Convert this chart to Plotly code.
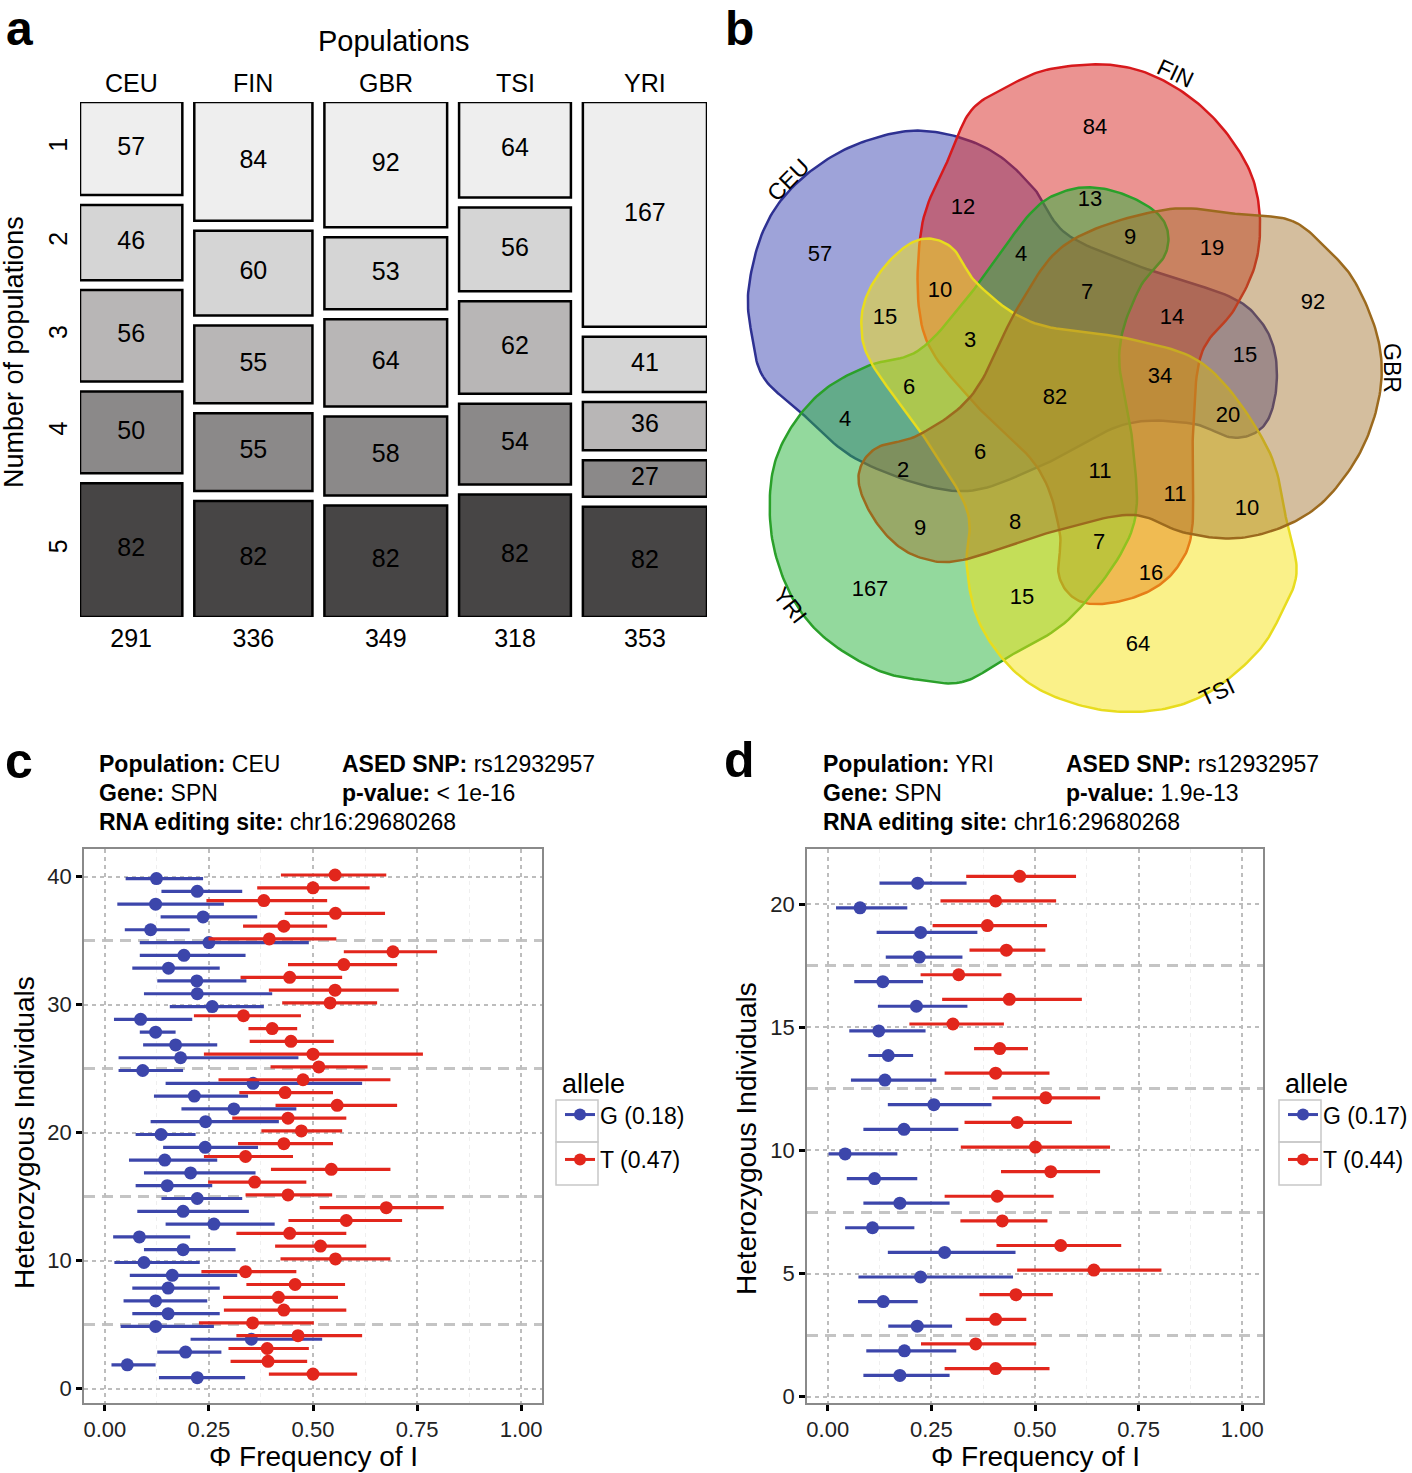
import numpy as np
import plotly.graph_objects as go

W, H = 1412, 1473

# ---------------- Panel a data ----------------
populations = ["CEU", "FIN", "GBR", "TSI", "YRI"]
n_pop_labels = ["1", "2", "3", "4", "5"]
shared_by_1 = [57, 84, 92, 64, 167]
shared_by_2 = [46, 60, 53, 56, 41]
shared_by_3 = [56, 55, 64, 62, 36]
shared_by_4 = [50, 55, 58, 54, 27]
shared_by_5 = [82, 82, 82, 82, 82]
row_colors = ["#eeeeee", "#d5d5d5", "#b8b6b6", "#8b8989", "#474545"]

# ---------------- Panel b data ----------------
venn_sets = ["CEU", "FIN", "GBR", "TSI", "YRI"]
venn_counts = [57, 84, 92, 64, 167, 12, 13, 9, 19, 4, 10, 7, 14, 15, 15, 3, 6,
               82, 34, 20, 4, 2, 6, 11, 11, 10, 9, 8, 7, 16, 15]

# ---------------- Panel c data (individuals 1..40) ----------------
c_G_pt = [0.222, 0.054, 0.194, 0.352, 0.122, 0.152, 0.122, 0.152, 0.162, 0.094,
          0.188, 0.083, 0.262, 0.188, 0.222, 0.150, 0.206, 0.144, 0.241, 0.135,
          0.242, 0.310, 0.215, 0.356, 0.091, 0.182, 0.170, 0.122, 0.086, 0.258,
          0.222, 0.221, 0.153, 0.190, 0.250, 0.110, 0.236, 0.122, 0.222, 0.124]
c_G_lo = [0.130, 0.016, 0.126, 0.206, 0.038, 0.066, 0.045, 0.066, 0.060, 0.023,
          0.094, 0.020, 0.146, 0.078, 0.136, 0.074, 0.094, 0.058, 0.140, 0.074,
          0.110, 0.184, 0.118, 0.146, 0.033, 0.033, 0.092, 0.084, 0.022, 0.156,
          0.094, 0.126, 0.066, 0.084, 0.084, 0.048, 0.134, 0.030, 0.136, 0.050]
c_G_hi = [0.337, 0.122, 0.280, 0.522, 0.262, 0.276, 0.246, 0.276, 0.318, 0.228,
          0.314, 0.205, 0.408, 0.346, 0.330, 0.258, 0.362, 0.270, 0.368, 0.218,
          0.418, 0.460, 0.344, 0.618, 0.188, 0.465, 0.270, 0.170, 0.210, 0.382,
          0.402, 0.340, 0.276, 0.338, 0.490, 0.204, 0.366, 0.286, 0.330, 0.236]
c_T_pt = [0.500, 0.392, 0.390, 0.464, 0.355, 0.430, 0.417, 0.457, 0.338, 0.554,
          0.518, 0.444, 0.580, 0.676, 0.440, 0.360, 0.544, 0.338, 0.430, 0.472,
          0.440, 0.558, 0.433, 0.476, 0.514, 0.500, 0.447, 0.402, 0.333, 0.541,
          0.553, 0.444, 0.574, 0.692, 0.395, 0.430, 0.554, 0.382, 0.500, 0.553]
c_T_lo = [0.394, 0.302, 0.297, 0.316, 0.226, 0.286, 0.284, 0.340, 0.232, 0.422,
          0.409, 0.316, 0.441, 0.516, 0.338, 0.248, 0.399, 0.238, 0.320, 0.376,
          0.306, 0.410, 0.323, 0.273, 0.398, 0.238, 0.348, 0.345, 0.214, 0.426,
          0.394, 0.326, 0.440, 0.574, 0.249, 0.332, 0.432, 0.244, 0.366, 0.423]
c_T_hi = [0.606, 0.486, 0.490, 0.618, 0.502, 0.580, 0.560, 0.577, 0.460, 0.686,
          0.628, 0.580, 0.714, 0.814, 0.546, 0.484, 0.686, 0.452, 0.548, 0.570,
          0.580, 0.702, 0.548, 0.686, 0.631, 0.764, 0.550, 0.462, 0.471, 0.654,
          0.706, 0.570, 0.702, 0.798, 0.556, 0.534, 0.673, 0.534, 0.636, 0.676]

# ---------------- Panel d data (individuals 1..21) ----------------
d_G_pt = [0.174, 0.185, 0.216, 0.134, 0.224, 0.282, 0.108, 0.174, 0.113, 0.042,
          0.184, 0.256, 0.138, 0.146, 0.123, 0.214, 0.133, 0.221, 0.224, 0.078, 0.217]
d_G_lo = [0.086, 0.093, 0.146, 0.073, 0.074, 0.145, 0.042, 0.086, 0.046, 0.002,
          0.086, 0.145, 0.056, 0.098, 0.052, 0.121, 0.064, 0.140, 0.118, 0.020, 0.125]
d_G_hi = [0.294, 0.310, 0.300, 0.217, 0.447, 0.453, 0.209, 0.294, 0.216, 0.168,
          0.315, 0.395, 0.262, 0.206, 0.236, 0.337, 0.230, 0.325, 0.361, 0.192, 0.335]
d_T_pt = [0.405, 0.357, 0.405, 0.454, 0.642, 0.562, 0.421, 0.409, 0.538, 0.501,
          0.457, 0.526, 0.405, 0.415, 0.302, 0.438, 0.316, 0.431, 0.385, 0.405, 0.463]
d_T_lo = [0.282, 0.225, 0.333, 0.366, 0.457, 0.407, 0.320, 0.282, 0.418, 0.321,
          0.330, 0.397, 0.282, 0.353, 0.197, 0.276, 0.224, 0.342, 0.253, 0.272, 0.334]
d_T_hi = [0.535, 0.503, 0.479, 0.543, 0.805, 0.708, 0.530, 0.545, 0.657, 0.681,
          0.589, 0.657, 0.535, 0.483, 0.425, 0.613, 0.419, 0.525, 0.529, 0.551, 0.599]

x_ticks = [0, 0.25, 0.5, 0.75, 1.0]
x_ticktext = ["0.00", "0.25", "0.50", "0.75", "1.00"]

BLUE = "#3c46ab"
RED = "#e2261c"
FONT = "Liberation Sans, Arial, Helvetica, sans-serif"


def px_x(p):
    return p / W


def px_y(p):
    return 1 - p / H


fig = go.Figure()
annotations = []
shapes = []


def ann(x, y, text, size, angle=0, xanchor="center", yanchor="middle", **kw):
    d = dict(x=x, y=y, xref=kw.pop("xref", "paper"), yref=kw.pop("yref", "paper"),
             text=text, textangle=angle, showarrow=False,
             xanchor=xanchor, yanchor=yanchor,
             font=dict(family=FONT, size=size, color="black"))
    d.update(kw)
    annotations.append(d)


# =============== Panel a: mosaic ===============
rows = [shared_by_1, shared_by_2, shared_by_3, shared_by_4, shared_by_5]
totals = [sum(r[j] for r in rows) for j in range(len(populations))]
GAP_X = 34.0          # gap between columns (count units)
GAP_Y = 0.0194        # gap between boxes (fraction of height)
lefts = []
acc = 0.0
for t in totals:
    lefts.append(acc)
    acc += t + GAP_X
x_total = acc - GAP_X
centers = [l + t / 2 for l, t in zip(lefts, totals)]
usable = 1 - GAP_Y * (len(rows) - 1)

bases = [[0.0] * len(populations) for _ in rows]
heights = [[0.0] * len(populations) for _ in rows]
for j, t in enumerate(totals):
    y0 = 0.0
    for i, r in enumerate(rows):
        h = r[j] / t * usable
        bases[i][j] = y0
        heights[i][j] = h
        y0 += h + GAP_Y

for i, r in enumerate(rows):
    fig.add_trace(go.Bar(
        x=centers, y=heights[i], base=bases[i], width=totals,
        marker=dict(color=row_colors[i], line=dict(color="black", width=2.5)),
        xaxis="x", yaxis="y", showlegend=False, hoverinfo="skip"))
    fig.add_trace(go.Scatter(
        x=centers, y=[b + h / 2 for b, h in zip(bases[i], heights[i])],
        text=[str(v) for v in r], mode="text",
        textfont=dict(family=FONT, size=25, color="black"),
        xaxis="x", yaxis="y", showlegend=False, hoverinfo="skip"))

for c, name in zip(centers, populations):
    ann(c, px_y(83), name, 25, xref="x")
ann(x_total / 2, px_y(41), "Populations", 29, xref="x")
ann(px_x(14), px_y(352), "Number of populations", 27, angle=-90)

ceu_centers = [bases[i][0] + heights[i][0] / 2 for i in range(len(rows))]

# =============== Panel b: Venn ===============
VC = (1062.0, 402.0)  # centre of diagram (image px)
# template outline (CEU shape) relative to centre, y up
template = np.array([
    (-302, 22), (-265, -13), (-202, -65), (-102, -96), (-22, -73), (68, -28),
    (138, -26), (183, -41), (213, -30), (226, 2), (226, 45), (211, 79),
    (178, 105), (88, 135), (11, 169), (-22, 215), (-62, 252), (-112, 272),
    (-162, 274), (-222, 254), (-272, 217), (-302, 172), (-317, 112), (-314, 67)
], dtype=float) * 0.97
# small placement corrections of each rotated copy (local px, y up)
venn_offsets = [(-6, 4), (-20, 7), (-19, 26), (10, 18), (11, -8)]


def catmull_rom_closed(P, n=16):
    N = len(P)
    out = []
    for i in range(N):
        p0, p1, p2, p3 = P[(i - 1) % N], P[i], P[(i + 1) % N], P[(i + 2) % N]
        for t in np.linspace(0, 1, n, endpoint=False):
            t2, t3 = t * t, t * t * t
            out.append(0.5 * ((2 * p1) + (-p0 + p2) * t + (2 * p0 - 5 * p1 + 4 * p2 - p3) * t2
                              + (-p0 + 3 * p1 - 3 * p2 + p3) * t3))
    out.append(out[0])
    return np.array(out)


curve = catmull_rom_closed(template)
venn_fill = ["rgba(40,50,170,0.45)", "rgba(215,40,35,0.5)", "rgba(160,110,40,0.45)",
             "rgba(245,228,20,0.5)", "rgba(40,180,60,0.5)"]
venn_line = ["#2e3192", "#d7191c", "#9c6a1e", "#e8dc1e", "#2aa02a"]
draw_order = [0, 1, 4, 3, 2]   # CEU, FIN, YRI, TSI, GBR
for k in draw_order:
    a = np.deg2rad(-72 * k)
    xr = curve[:, 0] * np.cos(a) - curve[:, 1] * np.sin(a) + venn_offsets[k][0]
    yr = curve[:, 0] * np.sin(a) + curve[:, 1] * np.cos(a) + venn_offsets[k][1]
    fig.add_trace(go.Scatter(x=xr, y=yr, mode="lines", fill="toself",
                             fillcolor=venn_fill[k], line=dict(color=venn_line[k], width=2.5),
                             xaxis="x4", yaxis="y4", showlegend=False, hoverinfo="skip"))

venn_label_px = [(820, 255), (1095, 128), (1313, 303), (1138, 645), (870, 590),
                 (963, 208), (1090, 200), (1130, 238), (1212, 249), (1021, 255),
                 (940, 291), (1087, 293), (1172, 318), (885, 318), (1245, 356),
                 (970, 341), (909, 388), (1055, 398), (1160, 377), (1228, 416),
                 (845, 420), (903, 471), (980, 453), (1100, 472), (1175, 495),
                 (1247, 509), (920, 529), (1015, 523), (1099, 543), (1151, 574),
                 (1022, 598)]
fig.add_trace(go.Scatter(
    x=[p[0] - VC[0] for p in venn_label_px], y=[VC[1] - p[1] for p in venn_label_px],
    text=[str(v) for v in venn_counts], mode="text",
    textfont=dict(family=FONT, size=22, color="black"),
    xaxis="x4", yaxis="y4", showlegend=False, hoverinfo="skip"))

set_label_px = [(788, 180, -45), (1175, 73, 25), (1392, 368, 90), (1217, 692, -25), (790, 605, 52)]
for name, (lx, ly, ang) in zip(venn_sets, set_label_px):
    ann(px_x(lx), px_y(ly), name, 23, angle=ang)

# =============== Panels c & d ===============
DODGE = 0.14


def add_panel(xa, ya, gpt, glo, ghi, tpt, tlo, thi, legend_name, g_label, t_label):
    ind = list(range(1, len(gpt) + 1))
    for pt, lo, hi, col, dy in [(gpt, glo, ghi, BLUE, -DODGE), (tpt, tlo, thi, RED, DODGE)]:
        fig.add_trace(go.Scatter(
            x=pt, y=[i + dy for i in ind], mode="markers",
            marker=dict(color=col, size=13),
            error_x=dict(type="data", symmetric=False,
                         array=[h - p for h, p in zip(hi, pt)],
                         arrayminus=[p - l for p, l in zip(pt, lo)],
                         color=col, thickness=3.2, width=0),
            xaxis=xa, yaxis=ya, showlegend=False, hoverinfo="skip"))
    for lab, col in [(g_label, BLUE), (t_label, RED)]:
        fig.add_trace(go.Scatter(
            x=[None], y=[None], mode="lines+markers", name=lab,
            line=dict(color=col, width=3), marker=dict(color=col, size=12),
            legend=legend_name, legendgroup=legend_name + lab,
            xaxis=xa, yaxis=ya))


add_panel("x2", "y2", c_G_pt, c_G_lo, c_G_hi, c_T_pt, c_T_lo, c_T_hi, "legend", "G (0.18)", "T (0.47)")
add_panel("x3", "y3", d_G_pt, d_G_lo, d_G_hi, d_T_pt, d_T_lo, d_T_hi, "legend2", "G (0.17)", "T (0.44)")

# headers
for x0, x1, pop, pval in [(97, 340, "CEU", "&lt; 1e-16"), (821, 1064, "YRI", "1.9e-13")]:
    ann(px_x(x0), px_y(764), "<b>Population:</b> " + pop, 23, xanchor="left")
    ann(px_x(x0), px_y(793), "<b>Gene:</b> SPN", 23, xanchor="left")
    ann(px_x(x0), px_y(822), "<b>RNA editing site:</b> chr16:29680268", 23, xanchor="left")
    ann(px_x(x1), px_y(764), "<b>ASED SNP:</b> rs12932957", 23, xanchor="left")
    ann(px_x(x1), px_y(793), "<b>p-value:</b> " + pval, 23, xanchor="left")

for xc in [313, 1035]:
    ann(px_x(xc), px_y(1456), "Φ Frequency of I", 28)
for xc, yc in [(24, 1133), (746, 1138)]:
    ann(px_x(xc), px_y(yc), "Heterozygous Individuals", 28, angle=-90)

# panel letters
for lt, xc in [("a", 19), ("b", 739)]:
    ann(px_x(xc), 1.0, "<b>" + lt + "</b>", 48, yanchor="top")
for lt, xc, yc in [("c", 19, 761), ("d", 739, 760)]:
    ann(px_x(xc), px_y(yc), "<b>" + lt + "</b>", 50)

# legend key boxes
for lx in [556, 1279]:
    for y0, y1 in [(1100, 1142), (1142, 1185)]:
        shapes.append(dict(type="rect", xref="paper", yref="paper",
                           x0=px_x(lx), x1=px_x(lx + 42), y0=px_y(y1), y1=px_y(y0),
                           line=dict(color="#c8c8c8", width=1.5), fillcolor="rgba(0,0,0,0)"))

panel_axis_common = dict(
    showline=True, mirror=True, linecolor="#8a8a8a", linewidth=1.5,
    ticks="outside", ticklen=6, tickwidth=2.5, tickcolor="black",
    tickfont=dict(family=FONT, size=22, color="#222"), zeroline=False)

xpanel = dict(panel_axis_common, range=[-0.05, 1.05], tickvals=x_ticks, ticktext=x_ticktext,
              showgrid=True, gridcolor="#bdbdbd", gridwidth=1.5, griddash="4px,4px",
              minor=dict(dtick=0.125, tick0=0, showgrid=True, gridcolor="#efefef",
                         gridwidth=1, griddash="4px,4px"))

legend_common = dict(yanchor="top", xanchor="left",
                     title=dict(text="allele", font=dict(family=FONT, size=27, color="black")),
                     font=dict(family=FONT, size=23, color="black"),
                     bgcolor="rgba(0,0,0,0)", tracegroupgap=12, itemwidth=30)

layout = dict(
    width=W, height=H, margin=dict(l=0, r=0, t=0, b=0, autoexpand=False),
    paper_bgcolor="white", plot_bgcolor="white",
    font=dict(family=FONT, color="black"),
    barmode="overlay",
    xaxis=dict(domain=[px_x(80), px_x(707)], range=[0, x_total], tickvals=centers,
               ticktext=[str(t) for t in totals], ticks="", showgrid=False, zeroline=False,
               showline=False, ticklabelstandoff=4,
               tickfont=dict(family=FONT, size=25, color="black")),
    yaxis=dict(domain=[px_y(617), px_y(102)], range=[1, 0], tickvals=ceu_centers,
               ticktext=n_pop_labels, tickangle=-90, ticks="", showgrid=False, zeroline=False,
               showline=False, ticklabelstandoff=7,
               tickfont=dict(family=FONT, size=25, color="black")),
    xaxis2=dict(xpanel, domain=[px_x(84), px_x(542)], anchor="y2"),
    yaxis2=dict(panel_axis_common, domain=[px_y(1403), px_y(849)], anchor="x2",
                range=[-1.12, 42.17], tick0=0, dtick=10,
                showgrid=True, gridcolor="#bdbdbd", gridwidth=1.5, griddash="4px,4px",
                minor=dict(dtick=5, tick0=0, showgrid=True, gridcolor="#c4c4c4",
                           gridwidth=3, griddash="11px,7px")),
    xaxis3=dict(xpanel, domain=[px_x(807), px_x(1263)], anchor="y3"),
    yaxis3=dict(panel_axis_common, domain=[px_y(1403), px_y(849)], anchor="x3",
                range=[-0.26, 22.25], tick0=0, dtick=5,
                showgrid=True, gridcolor="#bdbdbd", gridwidth=1.5, griddash="4px,4px",
                minor=dict(dtick=2.5, tick0=0, showgrid=True, gridcolor="#c4c4c4",
                           gridwidth=3, griddash="11px,7px")),
    xaxis4=dict(domain=[px_x(720), px_x(1412)], range=[720 - VC[0], 1412 - VC[0]],
                visible=False, anchor="y4"),
    yaxis4=dict(domain=[px_y(720), px_y(0)], range=[VC[1] - 720, VC[1]],
                visible=False, anchor="x4"),
    legend=dict(legend_common, x=px_x(560), y=px_y(1058)),
    legend2=dict(legend_common, x=px_x(1283), y=px_y(1058)),
    annotations=annotations,
    shapes=shapes,
)
fig.update_layout(**layout)
fig.write_html("out.html", config={"displayModeBar": False},
               post_script="document.body.style.margin='0px';document.body.style.overflow='hidden';")
